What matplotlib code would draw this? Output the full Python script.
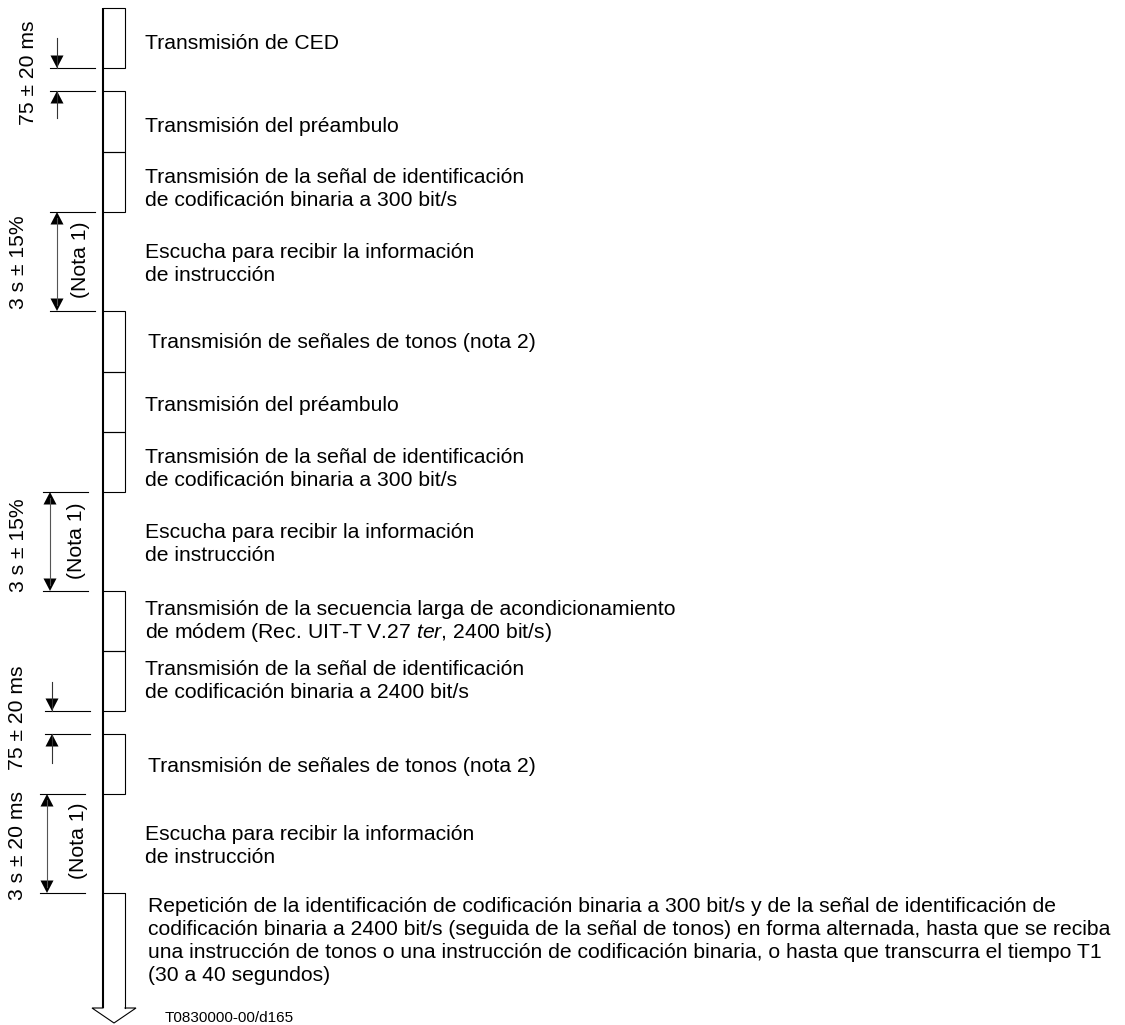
import matplotlib
matplotlib.use('Agg')
import matplotlib.pyplot as plt

plt.rcParams['font.family'] = ['Liberation Sans', 'DejaVu Sans']
plt.rcParams['mathtext.fontset'] = 'custom'
plt.rcParams['mathtext.rm'] = 'Liberation Sans'
plt.rcParams['mathtext.it'] = 'Liberation Sans:italic'

# ---------------- data ----------------
box_spans = [(8, 68), (91, 152), (152, 212), (311, 372), (372, 432),
             (432, 492), (591, 651), (651, 711), (734, 794)]
final_top = 893
shaft_bottom = 1008

label_x = [145, 145, 145, 145, 148, 145, 145, 145, 145, 145, 148, 145, 148]
label_baselines = [[49], [132], [183, 206], [258, 281], [348], [411], [463, 486],
                   [538, 561], [615, 638], [675, 698], [772], [840, 863],
                   [912, 935, 958, 981]]
label_lines = [
    ["Transmisión de CED"],
    ["Transmisión del préambulo"],
    ["Transmisión de la señal de identificación", "de codificación binaria a 300 bit/s"],
    ["Escucha para recibir la información", "de instrucción"],
    ["Transmisión de señales de tonos (nota 2)"],
    ["Transmisión del préambulo"],
    ["Transmisión de la señal de identificación", "de codificación binaria a 300 bit/s"],
    ["Escucha para recibir la información", "de instrucción"],
    ["Transmisión de la secuencia larga de acondicionamiento",
     r"de módem (Rec. UIT-T V.27 $\mathit{ter}$, 2400 bit/s)"],
    ["Transmisión de la señal de identificación", "de codificación binaria a 2400 bit/s"],
    ["Transmisión de señales de tonos (nota 2)"],
    ["Escucha para recibir la información", "de instrucción"],
    ["Repetición de la identificación de codificación binaria a 300 bit/s y de la señal de identificación de",
     "codificación binaria a 2400 bit/s (seguida de la señal de tonos) en forma alternada, hasta que se reciba",
     "una instrucción de tonos o una instrucción de codificación binaria, o hasta que transcurra el tiempo T1",
     "(30 a 40 segundos)"],
]

dim_y1 = [68, 212, 492, 711, 794]
dim_y2 = [91, 311, 591, 734, 893]
dim_kind = ['out', 'in', 'in', 'out', 'in']
dim_ext_x = [(50, 95), (50, 95), (43, 88), (45, 90), (40, 85)]
dim_line_x = [57, 57, 50, 52, 47]
dim_out_extent = [(38, 118), None, None, (682, 763), None]
dim_text = ["75 ± 20 ms", "3 s ± 15%", "3 s ± 15%", "75 ± 20 ms", "3 s ± 20 ms"]
dim_text_pos = [(28, 73), (19, 262), (19, 545), (18, 718), (18, 846)]
dim_note = [None, "(Nota 1)", "(Nota 1)", None, "(Nota 1)"]
dim_note_pos = [None, (81, 260), (76, 541), None, (78, 841)]

figure_id = "T0830000-00/d165"

# ---------------- drawing ----------------
W, H = 1125, 1025
fig = plt.figure(figsize=(W / 100, H / 100), dpi=100)
ax = fig.add_axes([0, 0, 1, 1])
ax.set_xlim(0, W)
ax.set_ylim(H, 0)
ax.axis('off')

XL, XR = 103, 125
FS = 15.2
thin = 0.8
thick = 1.5

# main time line
ax.plot([XL, XL], [box_spans[0][0], shaft_bottom], color='black', lw=thick,
        solid_capstyle='butt')

for top, bot in box_spans:
    ax.plot([XL, XR, XR, XL], [top, top, bot, bot], color='black', lw=thin,
            solid_joinstyle='miter')

# final box with hollow arrow
ax.plot([XL, XR, XR], [final_top, final_top, shaft_bottom], color='black', lw=thin)
ax.plot([XL, 92, 114, 136, XR],
        [shaft_bottom, shaft_bottom, 1023, shaft_bottom, shaft_bottom],
        color='black', lw=thin, solid_joinstyle='miter')

# labels
for x, bls, lines in zip(label_x, label_baselines, label_lines):
    for bl, s in zip(bls, lines):
        ax.text(x, bl, s, fontsize=FS, ha='left', va='baseline', color='black')

ax.text(165, 1022, figure_id, fontsize=11, ha='left', va='baseline', color='black')


def head(x, tip, direction):
    # direction +1: pointing down (towards larger y), -1: pointing up
    L, hw = 12.5, 6.5
    base = tip - direction * L
    ax.fill([x - hw, x + hw, x], [base, base, tip], color='black', lw=0)


for i in range(len(dim_y1)):
    y1, y2 = dim_y1[i], dim_y2[i]
    ex0, ex1 = dim_ext_x[i]
    dx = dim_line_x[i]
    for y in (y1, y2):
        ax.plot([ex0, ex1], [y, y], color='black', lw=thin)
    if dim_kind[i] == 'out':
        e0, e1 = dim_out_extent[i]
        ax.plot([dx, dx], [e0, y1], color='#333333', lw=thin)
        ax.plot([dx, dx], [y2, e1], color='#333333', lw=thin)
        head(dx, y1, +1)
        head(dx, y2, -1)
    else:
        ax.plot([dx, dx], [y1 + 6, y2 - 6], color='#555555', lw=thin)
        head(dx, y1, -1)
        head(dx, y2, +1)
    tx, ty = dim_text_pos[i]
    ax.text(tx, ty, dim_text[i], fontsize=FS, rotation=90, ha='center', va='center')
    if dim_note[i]:
        nx, ny = dim_note_pos[i]
        ax.text(nx, ny, dim_note[i], fontsize=FS, rotation=90, ha='center', va='center')

fig.savefig('out.png', dpi=100)
